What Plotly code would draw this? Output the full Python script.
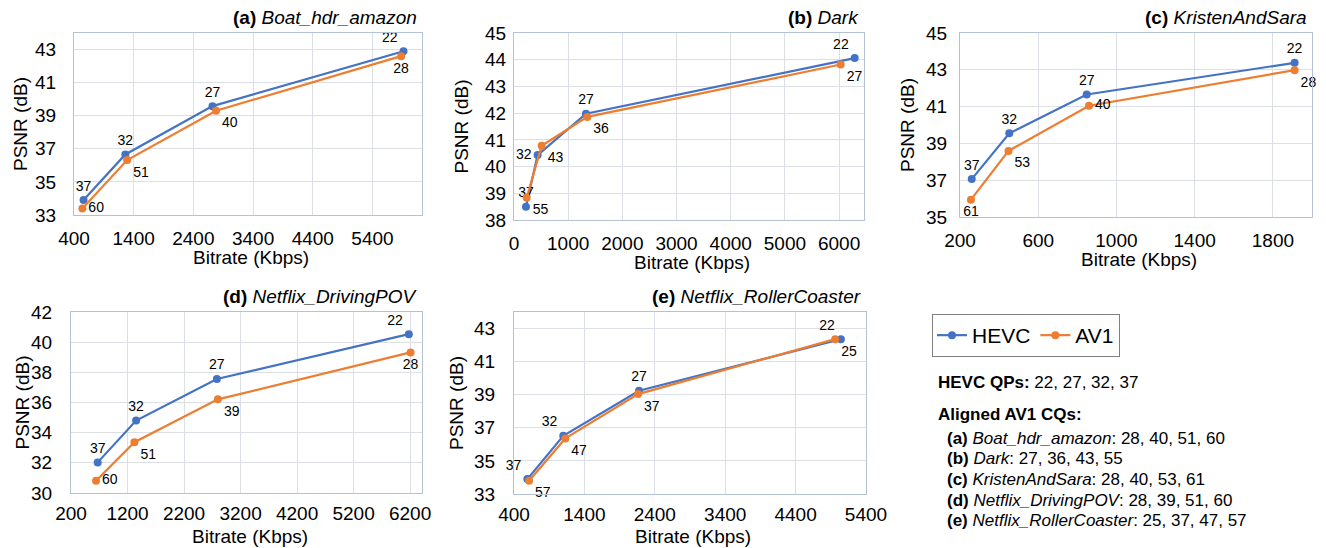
import plotly.graph_objects as go

W, H = 1326, 548
FONT = "Liberation Sans, Arial, sans-serif"
BLUE = "#4472C4"
ORANGE = "#ED7D31"

# ---------------- data ----------------
titles = ["<b>(a)</b> <i>Boat_hdr_amazon</i>", "<b>(b)</b> <i>Dark</i>",
          "<b>(c)</b> <i>KristenAndSara</i>", "<b>(d)</b> <i>Netflix_DrivingPOV</i>",
          "<b>(e)</b> <i>Netflix_RollerCoaster</i>"]

hevc_qp = ["22", "27", "32", "37"]

a_hevc_rate = [5920, 2720, 1260, 560]
a_hevc_psnr = [42.90, 39.58, 36.66, 33.90]
a_av1_rate = [5880, 2780, 1290, 540]
a_av1_psnr = [42.60, 39.30, 36.32, 33.40]
a_av1_cq = ["28", "40", "51", "60"]

b_hevc_rate = [6288, 1328, 436, 221]
b_hevc_psnr = [44.06, 41.98, 40.43, 38.50]
b_av1_rate = [6030, 1352, 510, 234]
b_av1_psnr = [43.82, 41.86, 40.78, 38.83]
b_av1_cq = ["27", "36", "43", "55"]

c_hevc_rate = [1911, 848, 452, 260]
c_hevc_psnr = [43.38, 41.66, 39.55, 37.06]
c_av1_rate = [1911, 860, 448, 256]
c_av1_psnr = [42.98, 41.05, 38.59, 35.94]
c_av1_cq = ["28", "40", "53", "61"]

d_hevc_rate = [6177, 2781, 1352, 672]
d_hevc_psnr = [40.53, 37.56, 34.80, 32.03]
d_av1_rate = [6208, 2799, 1322, 643]
d_av1_psnr = [39.32, 36.21, 33.37, 30.81]
d_av1_cq = ["28", "39", "51", "60"]

e_hevc_rate = [5043, 2176, 1100, 590]
e_hevc_psnr = [42.36, 39.24, 36.52, 33.90]
e_av1_rate = [4962, 2162, 1129, 614]
e_av1_psnr = [42.36, 39.04, 36.36, 33.80]
e_av1_cq = ["25", "37", "47", "57"]

x_ranges = [[400, 6230], [0, 6460], [200, 2000], [200, 6410], [400, 5400]]
x_tick0 = [400, 0, 200, 200, 400]
x_dtick = [1000, 1000, 400, 1000, 1000]
y_ranges = [[33, 44], [38, 45], [35, 45], [30, 42], [33, 44]]
y_dtick = [2, 1, 2, 2, 2]

legend_names = ["HEVC", "AV1"]
qp_text = "<b>HEVC QPs:</b> 22, 27, 32, 37"
cq_header = "<b>Aligned AV1 CQs:</b>"
cq_lines = ["<b>(a)</b> <i>Boat_hdr_amazon</i>: 28, 40, 51, 60",
            "<b>(b)</b> <i>Dark</i>: 27, 36, 43, 55",
            "<b>(c)</b> <i>KristenAndSara</i>: 28, 40, 53, 61",
            "<b>(d)</b> <i>Netflix_DrivingPOV</i>: 28, 39, 51, 60",
            "<b>(e)</b> <i>Netflix_RollerCoaster</i>: 25, 37, 47, 57"]

panels = [
    (a_hevc_rate, a_hevc_psnr, a_av1_rate, a_av1_psnr, a_av1_cq),
    (b_hevc_rate, b_hevc_psnr, b_av1_rate, b_av1_psnr, b_av1_cq),
    (c_hevc_rate, c_hevc_psnr, c_av1_rate, c_av1_psnr, c_av1_cq),
    (d_hevc_rate, d_hevc_psnr, d_av1_rate, d_av1_psnr, d_av1_cq),
    (e_hevc_rate, e_hevc_psnr, e_av1_rate, e_av1_psnr, e_av1_cq),
]

# ---------------- layout (pixel boxes of plot areas) ----------------
boxes = [(74, 422, 33, 215), (514, 864, 33, 220), (960, 1312, 33, 217),
         (71, 422, 312, 493), (514, 866, 312, 494)]
xtitle_off = [42, 42, 42, 43, 42]
xtick_len = [6, 6, 6, 3, 3]
ytitle_x = [20, 461, 907, 22, 456]
ytick_len = [13, 3, 8, 14, 14]

hevc_pos = [
    ["top left", "top center", "top center", "top center"],
    ["top left", "top center", "middle left", "top center"],
    ["top center", "top center", "top center", "top center"],
    ["top left", "top center", "top center", "top center"],
    ["top left", "top center", "top left", "top left"],
]
av1_pos = [
    ["bottom center", "bottom right", "bottom right", "middle right"],
    ["bottom right", "bottom right", "bottom right", "bottom right"],
    ["bottom right", "middle right", "bottom right", "bottom center"],
    ["bottom center", "bottom right", "bottom right", "middle right"],
    ["bottom right", "bottom right", "bottom right", "bottom right"],
]

fig = go.Figure()
layout = dict(
    width=W, height=H, margin=dict(l=0, r=0, t=0, b=0, autoexpand=False),
    paper_bgcolor="white", plot_bgcolor="white",
    font=dict(family=FONT, color="#000000"),
    showlegend=True,
    legend=dict(orientation="h", x=932 / W, y=1 - 314 / H, xanchor="left", yanchor="top",
                bordercolor="#7F7F7F", borderwidth=1, font=dict(size=21, family=FONT),
                itemwidth=30, tracegroupgap=0, bgcolor="white"),
)
annotations = []

def px(x):
    return x / W

def py(y):
    return 1 - y / H

for i, (hr, hp, ar, ap, cq) in enumerate(panels):
    k = "" if i == 0 else str(i + 1)
    xa, ya = "x" + k, "y" + k
    l, r, t, b = boxes[i]
    layout["xaxis" + k] = dict(
        domain=[px(l), px(r)], anchor=ya, range=x_ranges[i], tick0=x_tick0[i],
        dtick=x_dtick[i], showgrid=True, gridcolor="#DCE0E6", gridwidth=1,
        showline=True, linecolor="#B4C2D4", linewidth=1.3, mirror=True,
        ticks="outside", ticklen=xtick_len[i], tickcolor="rgba(0,0,0,0)", automargin=False,
        tickfont=dict(size=19, family=FONT, color="#000"), zeroline=False)
    layout["yaxis" + k] = dict(
        domain=[py(b), py(t)], anchor=xa, range=y_ranges[i], dtick=y_dtick[i],
        tick0=y_ranges[i][0], automargin=False,
        showgrid=True, gridcolor="#DCE0E6", gridwidth=1,
        showline=True, linecolor="#B4C2D4", linewidth=1.3, mirror=True,
        ticks="outside", ticklen=ytick_len[i], tickcolor="rgba(0,0,0,0)",
        tickfont=dict(size=19, family=FONT, color="#000"), zeroline=False)
    fig.add_trace(go.Scatter(
        x=hr, y=hp, xaxis=xa, yaxis=ya, mode="lines+markers+text", name=legend_names[0],
        text=hevc_qp, textposition=hevc_pos[i], textfont=dict(size=14, family=FONT, color="#000"),
        line=dict(color=BLUE, width=2.2), marker=dict(color=BLUE, size=8),
        showlegend=(i == 0), legendgroup="hevc", cliponaxis=False))
    fig.add_trace(go.Scatter(
        x=ar, y=ap, xaxis=xa, yaxis=ya, mode="lines+markers+text", name=legend_names[1],
        text=cq, textposition=av1_pos[i], textfont=dict(size=14, family=FONT, color="#000"),
        line=dict(color=ORANGE, width=2.2), marker=dict(color=ORANGE, size=8),
        showlegend=(i == 0), legendgroup="av1", cliponaxis=False))
    # title
    annotations.append(dict(text=titles[i], x=px(r - 3), y=py(t - 16), xref="paper", yref="paper",
                            xanchor="right", yanchor="middle", showarrow=False,
                            font=dict(size=19, family=FONT)))
    # axis titles
    annotations.append(dict(text="Bitrate (Kbps)", x=px((l + r) / 2 + 3), y=py(b + xtitle_off[i]),
                            xref="paper", yref="paper", xanchor="center", yanchor="middle",
                            showarrow=False, font=dict(size=19, family=FONT)))
    annotations.append(dict(text="PSNR (dB)", x=px(ytitle_x[i]), y=py((t + b) / 2), xref="paper",
                            yref="paper", xanchor="center", yanchor="middle", textangle=-90,
                            showarrow=False, font=dict(size=19, family=FONT)))

# text block
annotations.append(dict(text=qp_text, x=px(936), y=py(382), xref="paper", yref="paper",
                        xanchor="left", yanchor="middle", showarrow=False,
                        font=dict(size=17, family=FONT)))
annotations.append(dict(text=cq_header, x=px(936), y=py(414), xref="paper", yref="paper",
                        xanchor="left", yanchor="middle", showarrow=False,
                        font=dict(size=17, family=FONT)))
for j, line in enumerate(cq_lines):
    annotations.append(dict(text=line, x=px(945), y=py(438 + j * 20.7), xref="paper",
                            yref="paper", xanchor="left", yanchor="middle", showarrow=False,
                            font=dict(size=17, family=FONT)))

layout["annotations"] = annotations
fig.update_layout(**layout)
fig.write_html("out.html", config={"displayModeBar": False},
               post_script="document.body.style.margin='0';document.body.style.padding='0';")
